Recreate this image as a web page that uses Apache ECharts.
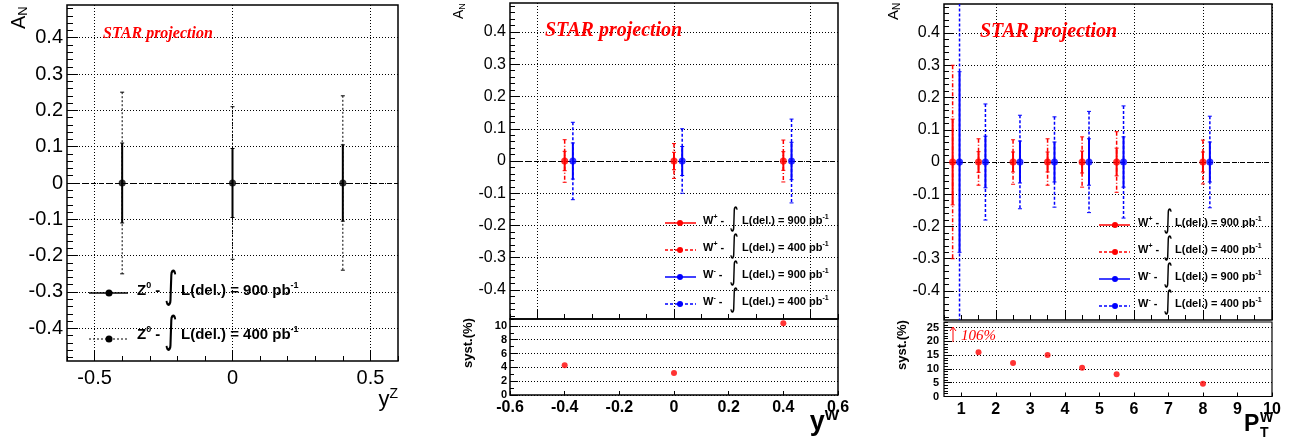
<!DOCTYPE html>
<html><head><meta charset="utf-8">
<script src="https://cdn.jsdelivr.net/npm/echarts@6/dist/echarts.min.js"></script>
<style>html,body{margin:0;padding:0;background:#fff}#c{width:1294px;height:441px}</style>
</head><body><div id="c"></div><script>
// ---------------- DATA ----------------
// Left panel: Z0 vs rapidity
const zRap = [-0.4, 0, 0.4];
const zAN = [0, 0, 0];
const zErr900 = [0.11, 0.095, 0.105];
const zErr400 = [0.25, 0.21, 0.24];

// Middle panel: W vs rapidity
const wPlusRap = [-0.4, 0, 0.4];
const wMinusRap = [-0.37, 0.03, 0.43];
const wRapAN = [0, 0, 0];
const wPlusRapErr900 = [0.030, 0.027, 0.029];
const wPlusRapErr400 = [0.066, 0.054, 0.065];
const wMinusRapErr900 = [0.056, 0.045, 0.058];
const wMinusRapErr400 = [0.120, 0.100, 0.130];
const wRapSyst = [4.3, 3.2, 10.4];

// Right panel: W vs pT
const wPlusPt = [0.75, 1.5, 2.5, 3.5, 4.5, 5.5, 8.0];
const wMinusPt = [0.95, 1.7, 2.7, 3.7, 4.7, 5.7, 8.2];
const wPtAN = [0, 0, 0, 0, 0, 0, 0];
const wPlusPtErr900 = [0.133, 0.032, 0.031, 0.031, 0.034, 0.043, 0.031];
const wPlusPtErr400 = [0.300, 0.072, 0.069, 0.072, 0.078, 0.094, 0.068];
const wMinusPtErr900 = [0.280, 0.080, 0.065, 0.062, 0.072, 0.078, 0.062];
const wMinusPtErr400 = [0.600, 0.180, 0.145, 0.140, 0.157, 0.174, 0.142];
const wPtSystX = [1.5, 2.5, 3.5, 4.5, 5.5, 8.0];
const wPtSyst = [16.0, 12.1, 15.0, 10.4, 8.1, 4.6];
const wPtSystOffscale = 106; // first bin, off scale

// Tick labels
const anTicks = [-0.4, -0.3, -0.2, -0.1, 0, 0.1, 0.2, 0.3, 0.4];
const yzTicks = [-0.5, 0, 0.5];
const ywGridTicks = [-0.5, 0, 0.5];
const ywTicks = [-0.6, -0.4, -0.2, 0, 0.2, 0.4, 0.6];
const ptTicks = [1, 2, 3, 4, 5, 6, 7, 8, 9, 10];
const ptGridTicks = [2, 4, 6, 8, 10];
const systRapTicks = [0, 2, 4, 6, 8, 10];
const systPtTicks = [0, 5, 10, 15, 20, 25];
const lumis = ['900', '400'];

// ---------------- HELPERS ----------------
const FONT = '"Liberation Sans", Arial, Helvetica, sans-serif';
const SERIF = '"Liberation Serif", "Times New Roman", serif';
const DOT = [1, 2];
const RED = '#ff0000', BLUE = '#0000ff', BLACK = '#000000';

function steps(a, b, s) { const r = []; const n = Math.round((b - a) / s); for (let i = 0; i <= n; i++) r.push(+(a + i * s).toFixed(4)); return r; }

const xAxes = [], yAxes = [];
function addAxis(list, o) {
  list.push({
    type: 'value', gridIndex: o.grid, min: o.min, max: o.max, position: o.pos,
    axisLine: { show: false, onZero: false },
    axisTick: { show: true, inside: true, length: o.tickLen || 10, customValues: o.major, lineStyle: { color: BLACK, width: 1 } },
    axisLabel: o.labels ? { show: true, customValues: o.labels, margin: o.margin, fontSize: o.fs, fontWeight: o.fw || 'normal', fontFamily: FONT, color: BLACK, formatter: v => String(+v.toFixed(4)) } : { show: false },
    splitLine: { show: !!o.split, lineStyle: { color: BLACK, width: 1, type: DOT } }
  });
  const idx = list.length - 1;
  if (o.minor) {
    list.push({
      type: 'value', gridIndex: o.grid, min: o.min, max: o.max, position: o.pos,
      axisLine: { show: false, onZero: false },
      axisTick: { show: true, inside: true, length: o.minorLen || 5, customValues: o.minor, lineStyle: { color: BLACK, width: 1 } },
      axisLabel: { show: false }, splitLine: { show: false }
    });
  }
  return idx;
}

function errRender(color, width, dash, cap) {
  return function (params, api) {
    const x = api.value(0), y = api.value(1), e = api.value(2);
    const p1 = api.coord([x, y + e]), p2 = api.coord([x, y - e]);
    return {
      type: 'group', children: [
        { type: 'line', shape: { x1: p1[0], y1: p1[1], x2: p2[0], y2: p2[1] }, style: { stroke: color, lineWidth: width, lineDash: dash } },
        { type: 'line', shape: { x1: p1[0] - cap, y1: p1[1], x2: p1[0] + cap, y2: p1[1] }, style: { stroke: color, lineWidth: 1 } },
        { type: 'line', shape: { x1: p2[0] - cap, y1: p2[1], x2: p2[0] + cap, y2: p2[1] }, style: { stroke: color, lineWidth: 1 } }
      ]
    };
  };
}
function errSeries(xs, ys, es, xi, yi, color, width, dash, cap) {
  return {
    type: 'custom', xAxisIndex: xi, yAxisIndex: yi, clip: true, silent: true,
    dimensions: ['x', 'y', 'e'], encode: { x: 0, y: 1 },
    data: xs.map((x, i) => [x, ys[i], es[i]]),
    renderItem: errRender(color, width, dash, cap), z: 3
  };
}
function dotSeries(xs, ys, xi, yi, color, size, zeroLine) {
  const s = {
    type: 'scatter', xAxisIndex: xi, yAxisIndex: yi, symbol: 'circle', symbolSize: size, silent: true,
    itemStyle: { color: color }, data: xs.map((x, i) => [x, ys[i]]), z: 4
  };
  if (zeroLine) s.markLine = { silent: true, symbol: 'none', label: { show: false }, data: [{ yAxis: 0 }], lineStyle: { color: BLACK, width: 1, type: [5, 3] }, z: 2 };
  return s;
}

// ---------------- GRIDS ----------------
const gridBase = { show: true, borderColor: BLACK, borderWidth: 1.5, backgroundColor: 'transparent', containLabel: false, outerBoundsMode: 'none' };
const grids = [
  Object.assign({ left: 67, top: 5, width: 331, height: 356 }, gridBase),
  Object.assign({ left: 510, top: 3, width: 328, height: 316 }, gridBase),
  Object.assign({ left: 510, top: 319, width: 328, height: 76 }, gridBase),
  Object.assign({ left: 944, top: 4, width: 328, height: 316 }, gridBase),
  Object.assign({ left: 944, top: 322, width: 328, height: 74.5 }, gridBase, { borderWidth: 1.2 })
];

// Left
const x0 = addAxis(xAxes, { grid: 0, min: -0.6, max: 0.6, pos: 'bottom', major: yzTicks, labels: yzTicks, split: true, fs: 20, margin: 7, tickLen: 11, minor: steps(-0.6, 0.6, 0.1), minorLen: 5 });
const y0 = addAxis(yAxes, { grid: 0, min: -0.49, max: 0.49, pos: 'left', major: anTicks, labels: anTicks, split: true, fs: 20, margin: 4, tickLen: 11, minor: steps(-0.48, 0.48, 0.02), minorLen: 6 });
// Middle upper
const x1 = addAxis(xAxes, { grid: 1, min: -0.6, max: 0.6, pos: 'bottom', major: ywGridTicks, split: true, tickLen: 10, minor: steps(-0.6, 0.6, 0.1), minorLen: 5 });
const y1 = addAxis(yAxes, { grid: 1, min: -0.49, max: 0.49, pos: 'left', major: anTicks, labels: anTicks, split: true, fs: 16, margin: 4, tickLen: 10, minor: steps(-0.48, 0.48, 0.02), minorLen: 5 });
// Middle lower
const x2 = addAxis(xAxes, { grid: 2, min: -0.6, max: 0.6, pos: 'bottom', major: ywTicks, labels: ywTicks, split: false, fs: 16, fw: 'bold', margin: 5, tickLen: 4 });
const y2 = addAxis(yAxes, { grid: 2, min: 0, max: 11, pos: 'left', major: systRapTicks, labels: systRapTicks, split: true, fs: 11, fw: 'bold', margin: 3, tickLen: 8, minor: steps(0, 11, 1), minorLen: 4 });
// Right upper
const x3 = addAxis(xAxes, { grid: 3, min: 0.5, max: 10, pos: 'bottom', major: ptGridTicks, split: true, tickLen: 10, minor: steps(0.5, 10, 0.5), minorLen: 5 });
const y3 = addAxis(yAxes, { grid: 3, min: -0.49, max: 0.49, pos: 'left', major: anTicks, labels: anTicks, split: true, fs: 16, margin: 4, tickLen: 10, minor: steps(-0.48, 0.48, 0.02), minorLen: 5 });
// Right lower
const x4 = addAxis(xAxes, { grid: 4, min: 0.5, max: 10, pos: 'bottom', major: ptTicks, labels: ptTicks, split: false, fs: 16, fw: 'bold', margin: 5, tickLen: 4 });
const y4 = addAxis(yAxes, { grid: 4, min: 0, max: 27, pos: 'left', major: systPtTicks, labels: systPtTicks, split: true, fs: 11, fw: 'bold', margin: 5, tickLen: 8, minor: steps(0, 27, 1), minorLen: 4 });

// ---------------- SERIES ----------------
const series = [
  // left
  errSeries(zRap, zAN, zErr400, x0, y0, BLACK, 1, [2, 2], 2),
  errSeries(zRap, zAN, zErr900, x0, y0, BLACK, 2, null, 2),
  dotSeries(zRap, zAN, x0, y0, BLACK, 7, true),
  // middle upper
  errSeries(wPlusRap, wRapAN, wPlusRapErr400, x1, y1, RED, 1.5, [4, 2, 1, 2], 2),
  errSeries(wPlusRap, wRapAN, wPlusRapErr900, x1, y1, RED, 2, null, 2),
  errSeries(wMinusRap, wRapAN, wMinusRapErr400, x1, y1, BLUE, 1.5, [3, 2], 2),
  errSeries(wMinusRap, wRapAN, wMinusRapErr900, x1, y1, BLUE, 2, null, 2),
  dotSeries(wPlusRap, wRapAN, x1, y1, RED, 7, true),
  dotSeries(wMinusRap, wRapAN, x1, y1, BLUE, 7, false),
  // middle lower
  dotSeries(wPlusRap, wRapSyst, x2, y2, RED, 6, false),
  // right upper
  errSeries(wPlusPt, wPtAN, wPlusPtErr400, x3, y3, RED, 1.5, [4, 2, 1, 2], 2),
  errSeries(wPlusPt, wPtAN, wPlusPtErr900, x3, y3, RED, 2, null, 2),
  errSeries(wMinusPt, wPtAN, wMinusPtErr400, x3, y3, BLUE, 1.5, [3, 2], 2),
  errSeries(wMinusPt, wPtAN, wMinusPtErr900, x3, y3, BLUE, 2, null, 2),
  dotSeries(wPlusPt, wPtAN, x3, y3, RED, 7, true),
  dotSeries(wMinusPt, wPtAN, x3, y3, BLUE, 7, false),
  // right lower
  dotSeries(wPtSystX, wPtSyst, x4, y4, RED, 6, false)
];

// ---------------- GRAPHICS (texts, legends) ----------------
const g = [];
function text(x, y, str, style, extra) {
  g.push(Object.assign({ type: 'text', x: x, y: y, silent: true, z: 100, style: Object.assign({ text: str }, style) }, extra || {}));
}
// A_N labels (rotated)
function anLabel(x, y, fs) {
  text(x, y, '{a|A}{s|N}', {
    align: 'left', verticalAlign: 'middle', fill: BLACK,
    rich: { a: { fontSize: fs, fontFamily: FONT, fill: BLACK, lineHeight: fs + 2 }, s: { fontSize: Math.round(fs * 0.65), fontFamily: FONT, fill: BLACK, verticalAlign: 'bottom', lineHeight: fs + 2 } }
  }, { rotation: Math.PI / 2 });
}
anLabel(19, 29, 20);
anLabel(459, 19, 14);
anLabel(894, 20, 15);

// STAR projection
text(103, 34, 'STAR projection', { fontFamily: SERIF, fontStyle: 'italic', fontWeight: 'bold', fontSize: 16, fill: RED, verticalAlign: 'middle' });
text(545, 31, 'STAR projection', { fontFamily: SERIF, fontStyle: 'italic', fontWeight: 'bold', fontSize: 20, fill: RED, verticalAlign: 'middle' });
text(980, 32, 'STAR projection', { fontFamily: SERIF, fontStyle: 'italic', fontWeight: 'bold', fontSize: 20, fill: RED, verticalAlign: 'middle' });

// axis titles
text(398, 400, '{a|y}{s|Z}', { align: 'right', verticalAlign: 'middle', rich: {
  a: { fontSize: 22, fontFamily: FONT, fill: BLACK, lineHeight: 26 },
  s: { fontSize: 14, fontFamily: FONT, fill: BLACK, verticalAlign: 'top', lineHeight: 26 } } });
text(839, 423, '{a|y}{s|W}', { align: 'right', verticalAlign: 'middle', rich: {
  a: { fontSize: 27, fontWeight: 'bold', fontFamily: FONT, fill: BLACK, lineHeight: 30 },
  s: { fontSize: 15, fontWeight: 'bold', fontFamily: FONT, fill: BLACK, verticalAlign: 'top', lineHeight: 30 } } });
text(1244, 425, 'P', { fontSize: 23, fontWeight: 'bold', fontFamily: FONT, fill: BLACK, verticalAlign: 'middle' });
text(1260, 418, 'W', { fontSize: 14, fontWeight: 'bold', fontFamily: FONT, fill: BLACK, verticalAlign: 'middle' });
text(1260, 433, 'T', { fontSize: 14, fontWeight: 'bold', fontFamily: FONT, fill: BLACK, verticalAlign: 'middle' });

// syst.(%) labels
text(468, 368, 'syst.(%)', { fontSize: 13, fontWeight: 'bold', fontFamily: FONT, fill: BLACK, align: 'left', verticalAlign: 'middle' }, { rotation: Math.PI / 2 });
text(902, 370, 'syst.(%)', { fontSize: 13, fontWeight: 'bold', fontFamily: FONT, fill: BLACK, align: 'left', verticalAlign: 'middle' }, { rotation: Math.PI / 2 });

// 106% annotation
g.push({ type: 'polyline', silent: true, z: 100, shape: { points: [[950, 331], [953, 327], [956, 331]] }, style: { stroke: RED, lineWidth: 1, fill: null } });
g.push({ type: 'line', silent: true, z: 100, shape: { x1: 953, y1: 327, x2: 953, y2: 342 }, style: { stroke: RED, lineWidth: 1 } });
text(961, 336, wPtSystOffscale + '%', { fontFamily: SERIF, fontStyle: 'italic', fontSize: 15, fill: RED, verticalAlign: 'middle' });

// legends
function legendRow(c) {
  g.push({ type: 'line', silent: true, z: 100, shape: { x1: c.x1, y1: c.y, x2: c.x2, y2: c.y }, style: { stroke: c.color, lineWidth: c.lw, lineDash: c.dash } });
  g.push({ type: 'circle', silent: true, z: 101, shape: { cx: c.dx, cy: c.y, r: c.r }, style: { fill: c.color } });
  const rich = {
    b: { fontSize: c.fs, fontWeight: 'bold', fontFamily: FONT, fill: BLACK, lineHeight: c.fs + 4 },
    s: { fontSize: Math.round(c.fs * 0.62), fontWeight: 'bold', fontFamily: FONT, fill: BLACK, verticalAlign: 'top', lineHeight: c.fs + 4 }
  };
  text(c.tx, c.ty, '{b|' + c.name + '}{s|' + c.sup + '}{b| -}', { verticalAlign: 'middle', rich: rich });
  text(c.ix, c.iy, '\u222B', { fontFamily: '"DejaVu Sans", sans-serif', fontSize: c.ifs, fill: BLACK, align: 'center', verticalAlign: 'middle' }, { scaleY: c.isc });
  text(c.tx2, c.ty, '{b|L(del.) = ' + c.lumi + ' pb}{s|-1}', { verticalAlign: 'middle', rich: rich });
}
// left legend
legendRow({ x1: 89, x2: 128, dx: 109, y: 293, color: BLACK, lw: 1.5, dash: null, r: 3.5, tx: 137, ty: 291, name: 'Z', sup: '0', ix: 171, iy: 288, ifs: 26, isc: 1.45, tx2: 181, lumi: lumis[0], fs: 15 });
legendRow({ x1: 89, x2: 128, dx: 109, y: 339, color: BLACK, lw: 1, dash: [2, 2], r: 3.5, tx: 137, ty: 335, name: 'Z', sup: '0', ix: 171, iy: 333, ifs: 26, isc: 1.45, tx2: 181, lumi: lumis[1], fs: 15 });
// middle legend
const midRows = [[223, RED, null, '+', 0], [250, RED, [3, 2], '+', 1], [277, BLUE, null, '-', 0], [304, BLUE, [3, 2], '-', 1]];
midRows.forEach(r => legendRow({ x1: 665, x2: 696, dx: 680, y: r[0], color: r[1], lw: 1.5, dash: r[2], r: 3, tx: 703, ty: r[0] - 2, name: 'W', sup: r[3], ix: 734, iy: r[0] - 4, ifs: 18, isc: 1.45, tx2: 742, lumi: lumis[r[4]], fs: 11 }));
// right legend
const rightRows = [[225, RED, null, '+', 0], [252, RED, [3, 2], '+', 1], [279, BLUE, null, '-', 0], [306, BLUE, [3, 2], '-', 1]];
rightRows.forEach(r => legendRow({ x1: 1099, x2: 1130, dx: 1115, y: r[0], color: r[1], lw: 1.5, dash: r[2], r: 3, tx: 1138, ty: r[0] - 2, name: 'W', sup: r[3], ix: 1168, iy: r[0] - 4, ifs: 18, isc: 1.45, tx2: 1175, lumi: lumis[r[4]], fs: 11 }));

const chart = echarts.init(document.getElementById('c'), null, { renderer: 'canvas' });
chart.setOption({
  backgroundColor: '#ffffff',
  animation: false,
  grid: grids,
  xAxis: xAxes,
  yAxis: yAxes,
  series: series,
  graphic: g
});
</script></body></html>
